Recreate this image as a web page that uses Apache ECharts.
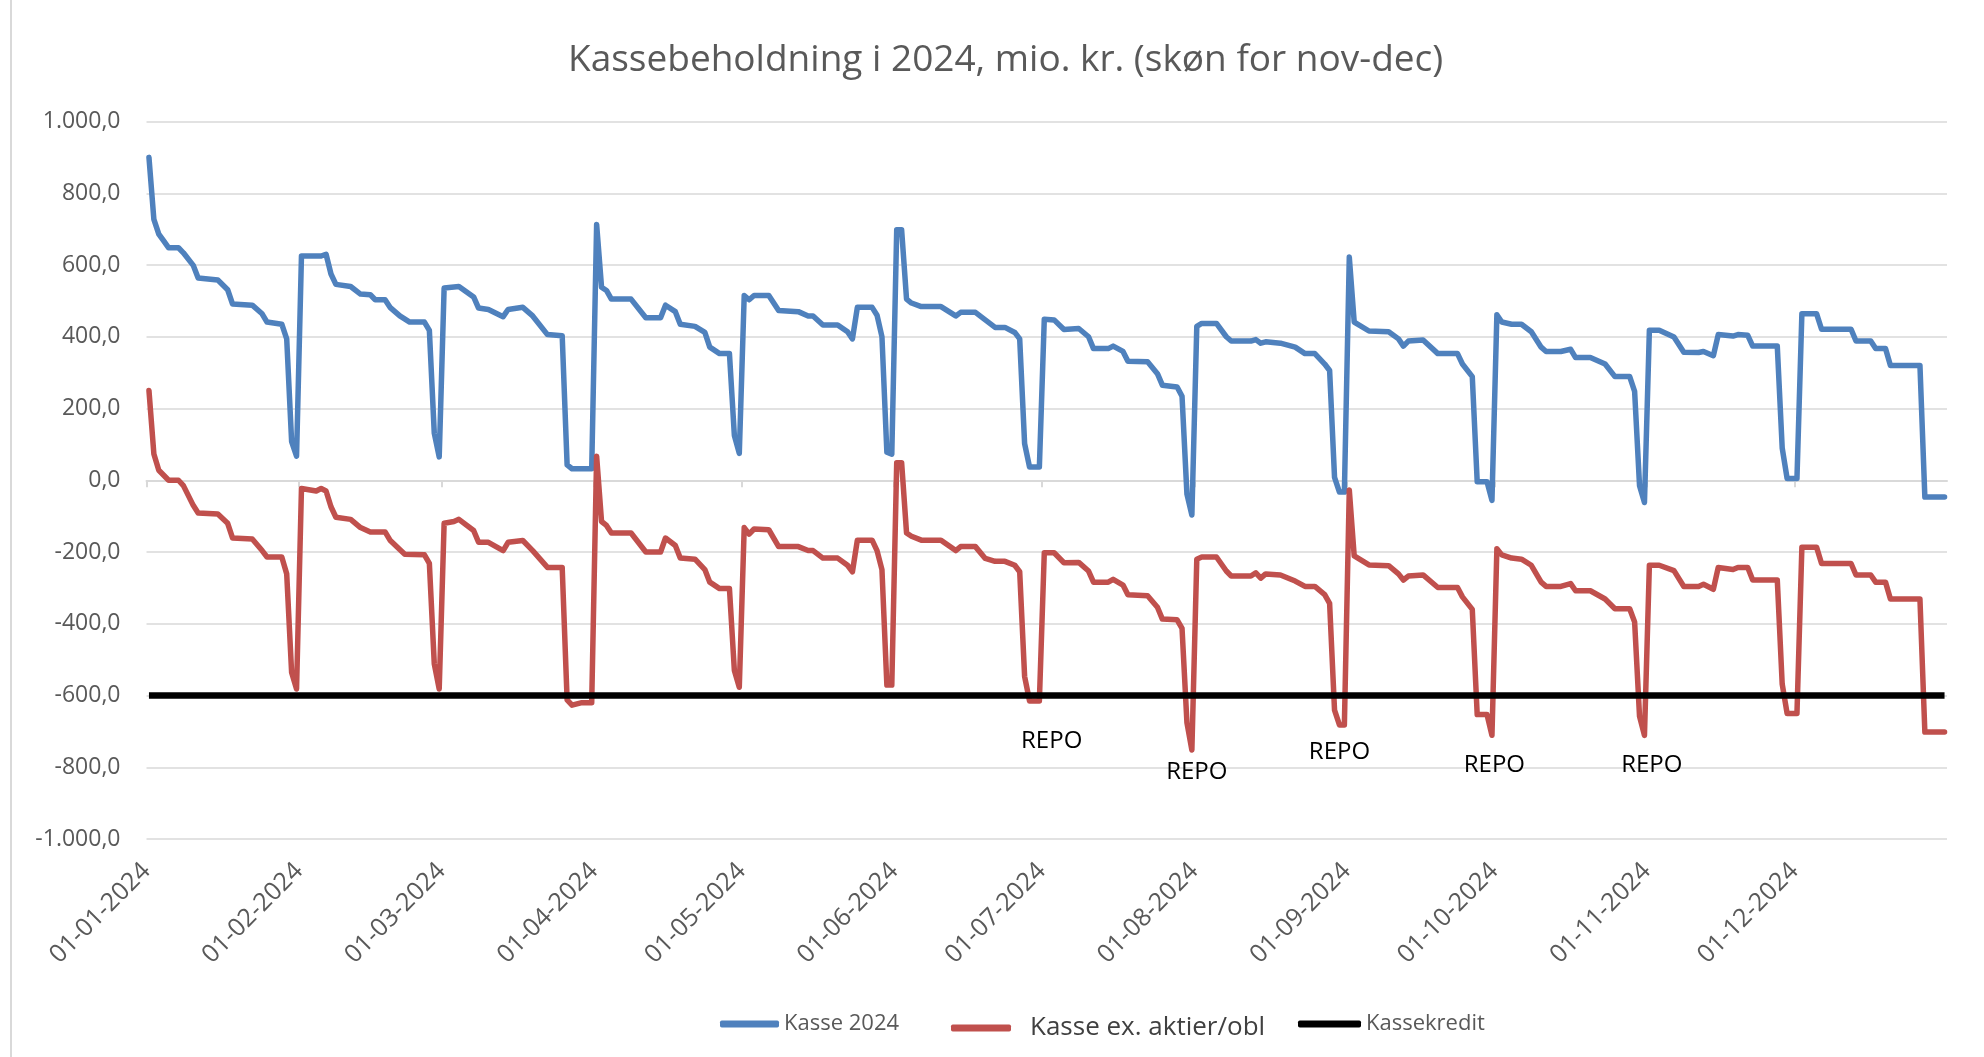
<!DOCTYPE html>
<html>
<head>
<meta charset="utf-8">
<title>Kassebeholdning i 2024</title>
<script src="https://cdn.jsdelivr.net/npm/echarts@6/dist/echarts.min.js"></script>
<style>
  html, body { margin: 0; padding: 0; background: #fff; }
  #main { width: 1984px; height: 1057px; }
</style>
</head>
<body>
<div id="main"></div>
<script>
// dag = antal dage efter 1. januar 2024 (aflæst af figuren)
var kasseDag = [0, 1, 2, 3, 4, 6, 7, 9, 10, 14, 16, 17, 21, 23, 24, 27, 28, 29, 30, 31, 35, 36, 37, 38, 41, 43, 45, 46, 48, 49, 51, 53, 56, 57, 58, 59,
  60, 63, 66, 67, 69, 72, 73, 76, 78, 81, 84, 85, 86, 90, 91, 92, 93, 94, 98, 101, 104, 105, 107, 108, 111, 113, 114, 116, 118, 119, 120,
  121, 122, 123, 126, 128, 132, 134, 135, 137, 140, 142, 143, 144, 147, 148, 149, 150, 151, 152, 153, 154, 155, 157, 161, 164, 165, 168,
  170, 172, 174, 176, 177, 178, 179, 181, 182, 184, 186, 189, 191, 192, 195, 196, 198, 199, 203, 205, 206, 209, 210, 211, 212, 213, 214,
  217, 219, 220, 224, 225, 226, 227, 230, 233, 235, 237, 239, 240, 241, 242, 243, 244, 245, 248, 252, 254, 255, 256, 259, 262, 266, 267,
  269, 270, 272, 273, 274, 275, 277, 279, 281, 283, 284, 287, 289, 290, 293, 296, 298, 301, 302, 303, 304, 305, 307, 310, 312, 315, 316,
  318, 319, 322, 323, 325, 326, 331, 332, 333, 335, 336, 339, 340, 346, 347, 350, 351, 353, 354, 360, 361, 365];
var kasseVal = [900, 727, 686, 667, 648, 648, 634, 599, 564, 558, 531, 491, 488, 464, 441, 435, 394, 108, 67, 625, 625, 630, 575, 546, 540, 519, 517, 503, 503, 482, 458, 441, 441, 418, 131, 65,
  536, 540, 511, 480, 476, 456, 476, 482, 458, 406, 403, 43, 32, 32, 713, 538, 529, 505, 505, 453, 453, 488, 470, 435, 429, 412, 371, 353, 353, 125, 75,
  515, 503, 515, 515, 473, 470, 458, 458, 433, 433, 414, 394, 482, 482, 460, 400, 78, 73, 698, 698, 505, 494, 484, 484, 458, 468, 468,
  447, 426, 426, 412, 394, 102, 37, 37, 449, 447, 420, 423, 400, 367, 367, 374, 359, 332, 330, 297, 265, 260, 234, -39, -97, 429, 437,
  437, 400, 388, 388, 392, 382, 386, 382, 371, 353, 353, 324, 306, 8, -33, -33, 622, 441, 416, 414, 394, 374, 388, 391, 353, 353, 324,
  289, -4, -4, -56, 461, 441, 435, 435, 414, 371, 359, 359, 365, 342, 342, 324, 289, 289, 248, -15, -62, 418, 418, 399, 357, 356, 359,
  347, 406, 402, 406, 404, 374, 374, 90, 5, 5, 464, 464, 421, 421, 388, 388, 367, 367, 320, 320, -47, -47];

var exDag = [0, 1, 2, 4, 6, 7, 9, 10, 14, 16, 17, 21, 23, 24, 27, 28, 29, 30, 31, 34, 35, 36, 37, 38, 41, 43, 45, 48, 49, 52, 56, 57, 58, 59,
  60, 62, 63, 66, 67, 69, 72, 73, 76, 78, 81, 84, 85, 86, 88, 90, 91, 92, 93, 94, 98, 101, 104, 105, 107, 108, 111, 113, 114, 116, 118, 119, 120,
  121, 122, 123, 126, 128, 132, 134, 135, 137, 140, 142, 143, 144, 147, 148, 149, 150, 151, 152, 153, 154, 155, 157, 161, 164, 165, 168,
  170, 172, 174, 176, 177, 178, 179, 181, 182, 184, 186, 189, 191, 192, 195, 196, 198, 199, 203, 205, 206, 209, 210, 211, 212, 213, 214,
  217, 219, 220, 224, 225, 226, 227, 230, 233, 235, 237, 239, 240, 241, 242, 243, 244, 245, 248, 252, 254, 255, 256, 259, 262, 266, 267,
  269, 270, 272, 273, 274, 275, 277, 279, 281, 283, 284, 287, 289, 290, 293, 296, 298, 301, 302, 303, 304, 305, 307, 310, 312, 315, 316,
  318, 319, 322, 323, 325, 326, 331, 332, 333, 335, 336, 339, 340, 346, 347, 350, 351, 353, 354, 360, 361, 365];
var exVal = [250, 73, 28, 0, 0, -15, -70, -91, -94, -120, -161, -164, -196, -214, -214, -261, -536, -582, -23, -30, -23, -30, -74, -103, -109, -132, -144, -144, -167, -206, -208, -232, -512, -582,
  -120, -115, -109, -140, -173, -173, -196, -173, -168, -196, -243, -243, -612, -627, -620, -620, 67, -115, -126, -147, -147, -200, -200, -161, -182, -217, -220, -249, -284, -302, -302, -530, -577,
  -132, -150, -136, -138, -185, -185, -196, -196, -217, -217, -237, -255, -167, -167, -196, -249, -571, -571, 49, 49, -147, -156, -167, -167, -196, -185, -185,
  -218, -226, -226, -237, -255, -547, -615, -615, -202, -202, -230, -229, -253, -284, -284, -276, -292, -319, -322, -354, -387, -389, -413, -676, -752, -220, -214,
  -214, -253, -267, -267, -258, -273, -261, -264, -281, -296, -296, -319, -343, -641, -682, -682, -27, -211, -236, -238, -261, -278, -267, -264, -299, -299, -325,
  -360, -653, -653, -711, -191, -208, -217, -220, -237, -284, -296, -296, -288, -308, -308, -331, -358, -358, -395, -658, -711, -237, -237, -252, -296, -296, -290,
  -304, -243, -249, -243, -243, -278, -278, -568, -650, -650, -187, -187, -232, -232, -264, -264, -284, -284, -331, -331, -702, -702];

var kreditDag = [0, 365];
var kreditVal = [-600, -600];

var xTickDates = ['2024-01-01', '2024-02-01', '2024-03-01', '2024-04-01', '2024-05-01', '2024-06-01',
  '2024-07-01', '2024-08-01', '2024-09-01', '2024-10-01', '2024-11-01', '2024-12-01'];

var FONT = '"Open Sans", "Noto Sans", sans-serif';

function dagTid(d) {
  return new Date(2024, 0, 1, 12).getTime() + d * 86400000;
}
function datoTid(s) {
  var p = s.split('-');
  return new Date(+p[0], +p[1] - 1, +p[2]).getTime();
}
function par(dage, vals) {
  return dage.map(function (d, i) { return [dagTid(d), vals[i]]; });
}
function talDK(v) {
  var s = String(Math.abs(v)).replace(/\B(?=(\d{3})+(?!\d))/g, '.');
  return (v < 0 ? '-' : '') + s + ',0';
}
function datoDK(v) {
  var d = new Date(v + 3600000);
  var dd = ('0' + d.getDate()).slice(-2);
  var mm = ('0' + (d.getMonth() + 1)).slice(-2);
  return dd + '-' + mm + '-' + d.getFullYear();
}

var tickTider = xTickDates.map(datoTid);
var xMin = new Date(2024, 0, 1).getTime();
var xMax = new Date(2025, 0, 1).getTime();

var myChart = echarts.init(document.getElementById('main'));
var option = {
  animation: false,
  backgroundColor: '#fff',
  title: {
    text: 'Kassebeholdning i 2024, mio. kr. (skøn for nov-dec)',
    left: 563,
    top: 37,
    textStyle: { fontFamily: FONT, fontSize: 37, fontWeight: 'normal', color: '#595959' }
  },
  legend: [
    {
      data: ['Kasse 2024'], left: 715, top: 1008, selectedMode: false,
      icon: 'roundRect', itemWidth: 59, itemHeight: 7,
      textStyle: { fontFamily: FONT, fontSize: 22, color: '#595959' }
    },
    {
      data: ['Kasse ex. aktier/obl'], left: 946, top: 1010, selectedMode: false,
      icon: 'roundRect', itemWidth: 60, itemHeight: 7,
      textStyle: { fontFamily: FONT, fontSize: 26, color: '#404040', padding: [0, 0, 0, 14] }
    },
    {
      data: ['Kassekredit'], left: 1293, top: 1008, selectedMode: false,
      icon: 'roundRect', itemWidth: 63, itemHeight: 7,
      textStyle: { fontFamily: FONT, fontSize: 22, color: '#595959' }
    }
  ],
  grid: { left: 146.5, right: 37, top: 121.5, bottom: 218 },
  xAxis: [
    {
      type: 'value', min: xMin, max: xMax, position: 'bottom',
      axisLine: { show: false, onZero: false },
      axisTick: { show: false },
      splitLine: { show: false },
      axisLabel: {
        customValues: tickTider,
        rotate: 45, margin: 28,
        fontFamily: FONT, fontSize: 25, color: '#595959',
        padding: [0, 0, 0, 0],
        formatter: function (v) { return datoDK(v); }
      }
    },
    {
      type: 'value', min: xMin, max: xMax, position: 'top',
      axisLine: { show: true, onZero: true, lineStyle: { color: '#d9d9d9', width: 2 } },
      axisTick: { show: true, inside: true, length: 7, customValues: tickTider, lineStyle: { color: '#d9d9d9', width: 2 } },
      axisLabel: { show: false },
      splitLine: { show: false }
    }
  ],
  yAxis: {
    type: 'value', min: -1000, max: 1000, interval: 200,
    axisLine: { show: false },
    axisTick: { show: false },
    axisLabel: {
      margin: 26, fontFamily: FONT, fontSize: 23, color: '#595959',
      formatter: talDK
    },
    splitLine: { lineStyle: { color: '#d9d9d9', width: 1.5 } }
  },
  series: [
    {
      name: 'Kasse 2024', type: 'line', data: par(kasseDag, kasseVal),
      color: '#4F81BD', showSymbol: false,
      lineStyle: { width: 5.5, color: '#4F81BD', cap: 'round', join: 'round' }
    },
    {
      name: 'Kasse ex. aktier/obl', type: 'line', data: par(exDag, exVal),
      color: '#C0504D', showSymbol: false,
      lineStyle: { width: 5.5, color: '#C0504D', cap: 'round', join: 'round' }
    },
    {
      name: 'Kassekredit', type: 'line', data: par(kreditDag, kreditVal),
      color: '#000000', showSymbol: false,
      lineStyle: { width: 6.5, color: '#000000' },
      markPoint: {
        symbol: 'rect', symbolSize: 1,
        itemStyle: { color: 'transparent' },
        label: { show: true, position: 'inside', formatter: 'REPO', color: '#000', fontFamily: FONT, fontSize: 24 },
        data: [
          { coord: [dagTid(183.5), -726] },
          { coord: [dagTid(213), -814] },
          { coord: [dagTid(242), -757] },
          { coord: [dagTid(273.5), -793] },
          { coord: [dagTid(305.5), -793] }
        ]
      }
    }
  ],
  graphic: [
    { type: 'line', shape: { x1: 11, y1: 0, x2: 11, y2: 1057 }, style: { stroke: '#d9d9d9', lineWidth: 2 }, silent: true }
  ]
};
myChart.setOption(option);
</script>
</body>
</html>
